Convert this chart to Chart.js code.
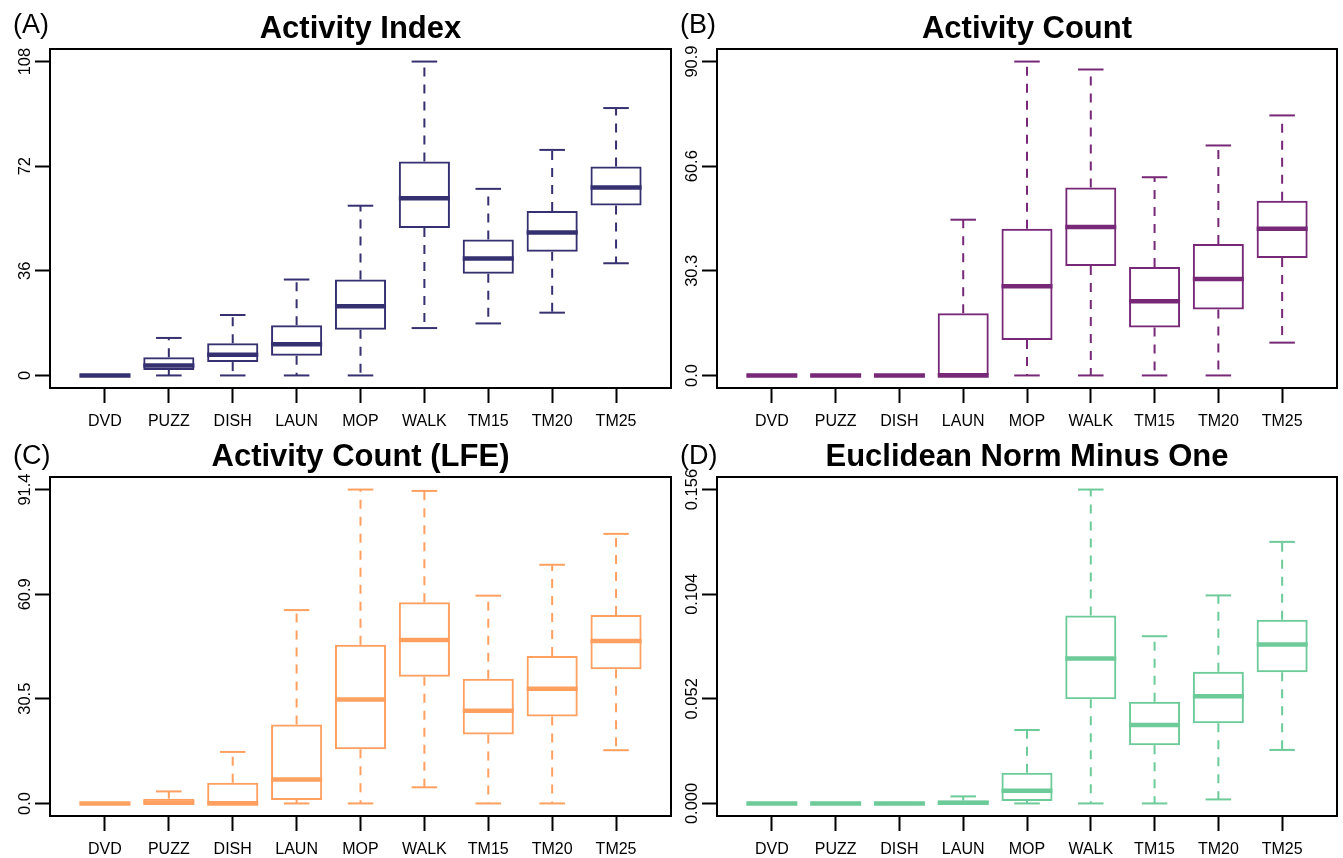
<!DOCTYPE html>
<html>
<head>
<meta charset="utf-8">
<script src="https://cdn.jsdelivr.net/npm/chart.js@4/dist/chart.umd.min.js"></script>
<style>
  html, body { margin: 0; padding: 0; background: #fff; }
  #wrap { position: relative; width: 1343px; height: 858px; overflow: hidden; }
  canvas { position: absolute; }
</style>
</head>
<body>
<div id="wrap">
  <canvas id="pA" width="672" height="429" style="left:0;top:0"></canvas>
  <canvas id="pB" width="676" height="429" style="left:667px;top:0"></canvas>
  <canvas id="pC" width="672" height="429" style="left:0;top:429px"></canvas>
  <canvas id="pD" width="676" height="429" style="left:667px;top:429px"></canvas>
</div>
<script>
// Box plots of four accelerometer metrics per activity

const categories = ['DVD', 'PUZZ', 'DISH', 'LAUN', 'MOP', 'WALK', 'TM15', 'TM20', 'TM25'];

// (A) Activity Index
const aiLow  = [0, 0,   0,    0,    0,    16.3, 17.9, 21.6, 38.6];
const aiQ1   = [0, 1.9, 4.6,  6.8,  15.7, 50.7, 35.0, 42.6, 58.5];
const aiMed  = [0, 3.4, 7.1,  10.7, 23.8, 61.0, 40.2, 49.2, 64.7];
const aiQ3   = [0, 6.3, 11.1, 17.3, 33.0, 73.6, 46.8, 56.6, 71.9];
const aiHigh = [0, 12.9, 20.8, 33.0, 58.4, 108, 64.2, 77.6, 92.0];
const aiTicks = [0, 36, 72, 108];
const aiTickLabels = ['0', '36', '72', '108'];

// (B) Activity Count
const acLow  = [0, 0, 0, 0,    0,    0,    0,    0,    9.5];
const acQ1   = [0, 0, 0, 0,    10.3, 31.7, 13.9, 19.1, 34.0];
const acMed  = [0, 0, 0, 0,    25.8, 43.0, 21.5, 27.9, 42.5];
const acQ3   = [0, 0, 0, 18.0, 42.5, 54.4, 31.4, 38.1, 50.6];
const acHigh = [0, 0, 0, 45.1, 90.9, 88.6, 57.4, 66.6, 75.3];
const acTicks = [0, 30.3, 60.6, 90.9];
const acTickLabels = ['0.0', '30.3', '60.6', '90.9'];

// (C) Activity Count (LFE)
const lfeLow  = [0, 0,   0,    0,    0,    4.7,  0,    0,    15.5];
const lfeQ1   = [0, 0,   0,    1.0,  15.8, 36.9, 20.1, 25.3, 39.1];
const lfeMed  = [0, 0.2, 0,    7.0,  30.3, 47.6, 27.0, 33.4, 47.3];
const lfeQ3   = [0, 1.4, 6.0,  23.0, 46.2, 58.6, 36.3, 42.9, 54.9];
const lfeHigh = [0, 3.5, 15.0, 56.3, 91.4, 91.0, 60.5, 69.5, 78.5];
const lfeTicks = [0, 30.5, 60.9, 91.4];
const lfeTickLabels = ['0.0', '30.5', '60.9', '91.4'];

// (D) Euclidean Norm Minus One
const enmoLow  = [0, 0, 0,      0,      0,      0,      0,      0.0020, 0.0266];
const enmoQ1   = [0, 0, 0,      0,      0.0012, 0.0518, 0.0289, 0.0398, 0.0652];
const enmoMed  = [0, 0, 0,      0.0003, 0.0063, 0.0720, 0.0390, 0.0533, 0.0790];
const enmoQ3   = [0, 0, 0,      0.0015, 0.0153, 0.0934, 0.0506, 0.0654, 0.0913];
const enmoHigh = [0, 0, 0.0003, 0.0035, 0.0365, 0.156,  0.0831, 0.1034, 0.130];
const enmoTicks = [0, 0.052, 0.104, 0.156];
const enmoTickLabels = ['0.000', '0.052', '0.104', '0.156'];

const FONT = "'Liberation Sans', Arial, Helvetica, sans-serif";

function line(ctx, x1, y1, x2, y2) {
  ctx.beginPath();
  ctx.moveTo(x1, y1);
  ctx.lineTo(x2, y2);
  ctx.stroke();
}

// whiskers, caps, medians, frame, rotated y labels, titles
const boxExtras = {
  id: 'boxExtras',
  afterDatasetsDraw(chart, args, o) {
    const ctx = chart.ctx;
    const a = chart.chartArea;
    const xs = chart.scales.x;
    const ys = chart.scales.y;
    ctx.save();
    ctx.strokeStyle = o.color;
    ctx.lineCap = 'butt';
    o.low.forEach((lo, i) => {
      const c = xs.getPixelForValue(i + 1);
      const capHalf = xs.getPixelForValue(i + 1.2) - c;
      const boxHalf = xs.getPixelForValue(i + 1.4) - c;
      const pLo = ys.getPixelForValue(lo);
      const pQ1 = ys.getPixelForValue(o.q1[i]);
      const pMed = ys.getPixelForValue(o.med[i]);
      const pQ3 = ys.getPixelForValue(o.q3[i]);
      const pHi = ys.getPixelForValue(o.high[i]);
      ctx.lineWidth = 2;
      ctx.setLineDash([9, 8]);
      if (pHi < pQ3) line(ctx, c, pQ3, c, pHi);
      if (pLo > pQ1) line(ctx, c, pQ1, c, pLo);
      ctx.setLineDash([]);
      line(ctx, c - capHalf, pHi, c + capHalf, pHi);
      line(ctx, c - capHalf, pLo, c + capHalf, pLo);
      ctx.lineWidth = 4.5;
      line(ctx, c - boxHalf, pMed, c + boxHalf, pMed);
    });

    ctx.strokeStyle = '#000';
    ctx.lineWidth = 2;
    ctx.strokeRect(a.left, a.top, a.right - a.left, a.bottom - a.top);

    ctx.fillStyle = '#000';
    ctx.font = '16.5px ' + FONT;
    ctx.textAlign = 'center';
    ctx.textBaseline = 'middle';
    o.ticks.forEach((v, k) => {
      ctx.save();
      ctx.translate(a.left - 25, ys.getPixelForValue(v));
      ctx.rotate(-Math.PI / 2);
      ctx.fillText(o.tickLabels[k], 0, 0);
      ctx.restore();
    });

    ctx.textBaseline = 'alphabetic';
    ctx.font = 'bold 31px ' + FONT;
    ctx.fillText(o.title, (a.left + a.right) / 2, a.top - 11);
    ctx.textAlign = 'left';
    ctx.font = '27px ' + FONT;
    ctx.fillText(o.letter, 13, o.letterY);
    ctx.restore();
  }
};

function makePanel(id, title, letter, color, low, q1, med, q3, high, ticks, tickLabels, g) {
  const top = ticks[ticks.length - 1];
  const boxes = categories.map((c, i) => ({ x: i + 1, y: [q1[i], q3[i]] }));
  const tickMarks = {
    offset: false, drawOnChartArea: false, drawTicks: true,
    tickLength: 15, tickColor: '#000', tickWidth: 2
  };
  return new Chart(document.getElementById(id), {
    type: 'bar',
    data: {
      datasets: [{
        data: boxes,
        backgroundColor: 'rgba(0,0,0,0)',
        borderColor: color,
        borderWidth: 2,
        borderSkipped: false,
        barPercentage: 0.8,
        categoryPercentage: 1.0
      }]
    },
    options: {
      responsive: false,
      animation: false,
      events: [],
      layout: { padding: { left: 0, top: g.top, right: g.right, bottom: 0 } },
      plugins: {
        legend: { display: false },
        tooltip: { enabled: false },
        boxExtras: { color, low, q1, med, q3, high, ticks, tickLabels, title, letter, letterY: g.letterY }
      },
      scales: {
        x: {
          type: 'linear',
          offset: false,
          min: 0.14,
          max: 9.86,
          afterBuildTicks: s => { s.ticks = categories.map((c, i) => ({ value: i + 1 })); },
          afterFit: s => { s.height = g.xh; },
          ticks: {
            autoSkip: false,
            maxRotation: 0,
            padding: 9,
            color: '#000',
            font: { family: FONT, size: 16 },
            callback: v => categories[Math.round(v) - 1]
          },
          grid: tickMarks,
          border: { display: false }
        },
        y: {
          min: -0.04 * top,
          max: 1.04 * top,
          afterBuildTicks: s => { s.ticks = ticks.map(v => ({ value: v })); },
          afterFit: s => { s.width = 50; },
          ticks: { display: false },
          grid: tickMarks,
          border: { display: false }
        }
      }
    },
    plugins: [boxExtras]
  });
}

makePanel('pA', 'Activity Index', '(A)', '#353070',
  aiLow, aiQ1, aiMed, aiQ3, aiHigh, aiTicks, aiTickLabels,
  { top: 49, right: 1, xh: 41, letterY: 33 });
makePanel('pB', 'Activity Count', '(B)', '#772877',
  acLow, acQ1, acMed, acQ3, acHigh, acTicks, acTickLabels,
  { top: 49, right: 6, xh: 41, letterY: 33 });
makePanel('pC', 'Activity Count (LFE)', '(C)', '#FFA060',
  lfeLow, lfeQ1, lfeMed, lfeQ3, lfeHigh, lfeTicks, lfeTickLabels,
  { top: 48, right: 1, xh: 42, letterY: 35 });
makePanel('pD', 'Euclidean Norm Minus One', '(D)', '#6CCB98',
  enmoLow, enmoQ1, enmoMed, enmoQ3, enmoHigh, enmoTicks, enmoTickLabels,
  { top: 48, right: 6, xh: 42, letterY: 35 });
</script>
</body>
</html>
